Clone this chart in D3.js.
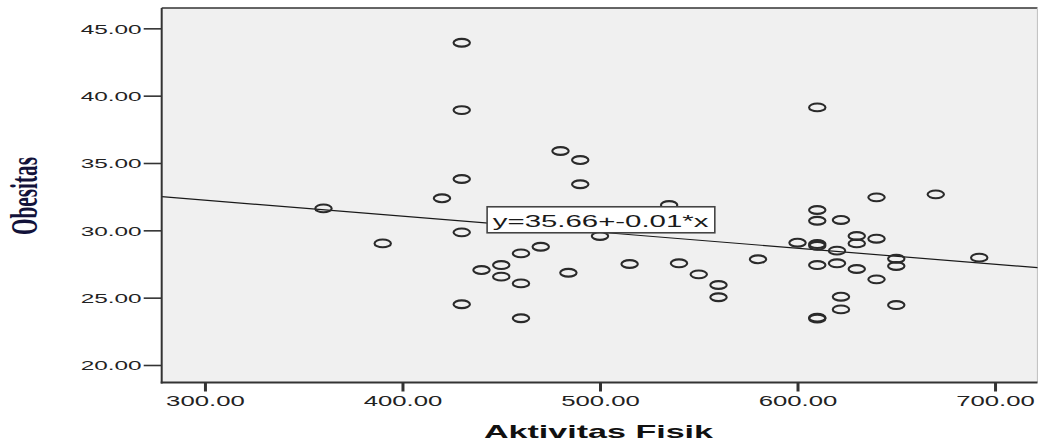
<!DOCTYPE html>
<html>
<head>
<meta charset="utf-8">
<script src="https://cdn.jsdelivr.net/npm/d3@7/dist/d3.min.js"></script>
<style>
  html, body { margin: 0; padding: 0; background: #ffffff; }
  svg { display: block; }
</style>
</head>
<body>
<svg id="chart" width="1038" height="443"></svg>
<script>
// ---- data ----
const aktivitasFisik = [360, 390, 420, 430, 430, 430, 430, 430, 480, 490, 490, 535, 500, 470, 460, 450, 440, 450, 460, 484, 515, 540, 550, 560, 560, 460,
  580, 600, 610, 610, 610, 610, 610, 610, 610, 610, 622, 620, 620, 622, 622, 630, 630, 630, 640, 640, 640, 650, 650, 650, 670, 692];
const obesitas = [31.63, 29.03, 32.38, 43.93, 38.93, 33.81, 29.85, 24.51, 35.89, 35.22, 33.42, 31.88, 29.58, 28.78, 28.29, 27.42, 27.05, 26.56, 26.06, 26.85, 27.5, 27.55, 26.73, 25.94, 25.03, 23.47,
  27.85, 29.08, 39.13, 31.51, 30.71, 28.98, 28.85, 27.42, 23.51, 23.45, 30.77, 28.49, 27.55, 25.07, 24.13, 29.58, 29.03, 27.13, 32.45, 29.38, 26.36, 27.89, 27.35, 24.45, 32.67, 27.97];
const xTickValues = [300, 400, 500, 600, 700];
const yTickValues = [20, 25, 30, 35, 40, 45];
const fitIntercept = [35.81];
const fitSlope = [-0.0119];
const fitLabel = ["y=35.66+-0.01*x"];
const xTitle = ["Aktivitas Fisik"];
const yTitle = ["Obesitas"];

// ---- layout ----
const svg = d3.select("#chart");
const plot = { left: 161.7, right: 1037.5, top: 8, bottom: 382.5 };
const x = d3.scaleLinear().domain([278.1, 721.5]).range([plot.left, plot.right]);
const y = d3.scaleLinear().domain([18.70, 46.51]).range([plot.bottom, plot.top]);

// plot background
svg.append("rect")
  .attr("x", plot.left).attr("y", plot.top)
  .attr("width", plot.right - plot.left).attr("height", plot.bottom - plot.top)
  .attr("fill", "#f0f0f0");

// frame: top & right lines
svg.append("line").attr("x1", plot.left).attr("x2", plot.right).attr("y1", plot.top).attr("y2", plot.top)
  .attr("stroke", "#333").attr("stroke-width", 1.6);
svg.append("line").attr("x1", plot.right).attr("x2", plot.right).attr("y1", plot.top).attr("y2", plot.bottom)
  .attr("stroke", "#c4c4c4").attr("stroke-width", 1.2);

// regression line
const xd = x.domain();
const fitPts = xd.map(v => [v, fitIntercept[0] + fitSlope[0] * v]);
svg.append("line")
  .attr("x1", x(fitPts[0][0])).attr("y1", y(fitPts[0][1]))
  .attr("x2", x(fitPts[1][0])).attr("y2", y(fitPts[1][1]))
  .attr("stroke", "#1a1a1a").attr("stroke-width", 1.2);

// points
svg.append("g").selectAll("ellipse")
  .data(aktivitasFisik.map((a, i) => [a, obesitas[i]]))
  .join("ellipse")
  .attr("cx", d => x(d[0])).attr("cy", d => y(d[1]))
  .attr("rx", 8.2).attr("ry", 3.9)
  .attr("fill", "none").attr("stroke", "#2a2a2a").attr("stroke-width", 2.1);

// equation label box
const lblX = 443, lblY = fitIntercept[0] + fitSlope[0] * 443;
const lbl = svg.append("g");
lbl.append("rect")
  .attr("x", x(lblX) - 0.3).attr("y", y(lblY) - 16.3)
  .attr("width", 227.7).attr("height", 26)
  .attr("fill", "#ffffff").attr("stroke", "#444").attr("stroke-width", 1.6);
lbl.append("text")
  .attr("x", x(lblX) + 5.4).attr("y", y(lblY) + 3.6)
  .attr("font-family", "Liberation Sans, Arial, sans-serif")
  .attr("font-size", 17).attr("fill", "#1a1a1a")
  .attr("textLength", 215.6).attr("lengthAdjust", "spacingAndGlyphs")
  .text(fitLabel[0]);

// y axis
const yAxis = svg.append("g")
  .attr("transform", `translate(${plot.left},0)`)
  .call(d3.axisLeft(y).tickValues(yTickValues).tickFormat(d3.format(".2f")).tickSize(18).tickPadding(2));
yAxis.select(".domain").remove();
yAxis.selectAll(".tick line").attr("stroke", "#333").attr("stroke-width", 1.6);
yAxis.selectAll(".tick text")
  .attr("font-family", "Liberation Sans, Arial, sans-serif").attr("font-size", 13).attr("fill", "#222")
  .attr("textLength", 61).attr("lengthAdjust", "spacingAndGlyphs").attr("dy", "0.38em");
svg.append("line").attr("x1", plot.left).attr("x2", plot.left).attr("y1", plot.top).attr("y2", plot.bottom + 1)
  .attr("stroke", "#333").attr("stroke-width", 2);

// x axis
const xAxis = svg.append("g")
  .attr("transform", `translate(0,${plot.bottom})`)
  .call(d3.axisBottom(x).tickValues(xTickValues).tickFormat(d3.format(".2f")).tickSize(9).tickPadding(5));
xAxis.select(".domain").remove();
xAxis.selectAll(".tick line").attr("stroke", "#333").attr("stroke-width", 3);
xAxis.selectAll(".tick text")
  .attr("font-family", "Liberation Sans, Arial, sans-serif").attr("font-size", 14).attr("fill", "#222")
  .attr("textLength", 78.7).attr("lengthAdjust", "spacingAndGlyphs");
svg.append("line").attr("x1", plot.left - 1).attr("x2", plot.right).attr("y1", plot.bottom).attr("y2", plot.bottom)
  .attr("stroke", "#333").attr("stroke-width", 1.8);

// axis titles
svg.append("text")
  .attr("x", 598.5).attr("y", 438.3)
  .attr("text-anchor", "middle")
  .attr("font-family", "Liberation Sans, Arial, sans-serif").attr("font-weight", "bold")
  .attr("font-size", 18.5).attr("fill", "#111")
  .attr("textLength", 229).attr("lengthAdjust", "spacingAndGlyphs")
  .text(xTitle[0]);

svg.append("text")
  .attr("transform", "translate(37,196) rotate(-90)")
  .attr("text-anchor", "middle")
  .attr("font-family", "Liberation Serif, Times New Roman, serif").attr("font-weight", "bold")
  .attr("font-size", 38).attr("fill", "#12123a")
  .attr("textLength", 78).attr("lengthAdjust", "spacingAndGlyphs")
  .text(yTitle[0]);
</script>
</body>
</html>
